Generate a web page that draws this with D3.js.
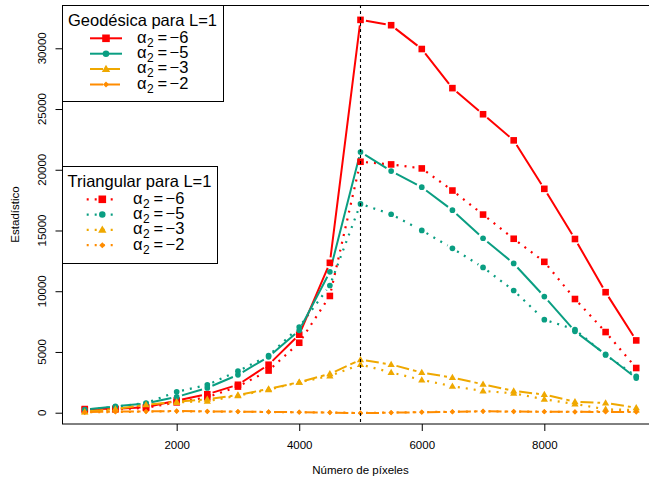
<!DOCTYPE html>
<html>
<head>
<meta charset="utf-8">
<script src="https://cdn.jsdelivr.net/npm/d3@7"></script>
<style>
  body { margin: 0; background: #fff; }
  svg { display: block; font-family: "Liberation Sans", Arial, Helvetica, sans-serif; }
</style>
</head>
<body>
<svg id="chart" width="649" height="482"></svg>
<script>
// Number of pixels (x) and statistic values for each alpha_2, two distances
const pixelCounts = [500, 1000, 1500, 2000, 2500, 3000, 3500, 4000, 4500, 5000,
                     5500, 6000, 6500, 7000, 7500, 8000, 8500, 9000, 9500];

// Geodesic distance, L = 1
const geoAlphaM6 = [300, 320, 450, 1000, 1520, 2300, 3950, 6420, 12340, 32340,
                    31900, 29940, 26720, 24570, 22420, 18430, 14300, 9920, 5950];
const geoAlphaM5 = [260, 520, 760, 1300, 2040, 3120, 4600, 6780, 11600, 21460,
                    19890, 18570, 16670, 14360, 12290, 9560, 6700, 4800, 2850];
const geoAlphaM3 = [80, 300, 660, 900, 1100, 1460, 1960, 2510, 3200, 4360,
                    3970, 3310, 2890, 2340, 1790, 1490, 910, 800, 410];
const geoAlphaM2 = [50, 90, 110, 140, 110, 90, 60, 40, 10, -40,
                    0, 40, 70, 120, 100, 80, 70, 60, 50];

// Triangular distance, L = 1
const triAlphaM6 = [240, 280, 400, 850, 1270, 2150, 3470, 5760, 9610, 20660,
                    20440, 20110, 18290, 16310, 14320, 12420, 9360, 6640, 3680];
const triAlphaM5 = [230, 480, 800, 1720, 2290, 3420, 4700, 7050, 10470, 17190,
                    16340, 15010, 13530, 11960, 10060, 7660, 6850, 4750, 3000];
const triAlphaM3 = [60, 250, 600, 850, 950, 1400, 1900, 2500, 3030, 3970,
                    3310, 2700, 2180, 1790, 1600, 1100, 720, 280, 220];
const triAlphaM2 = [30, 60, 90, 120, 100, 80, 60, 40, 20, -20,
                    10, 50, 80, 110, 90, 80, 60, 120, 100];

const alphaValues = ["6", "5", "3", "2"];
const xTicks = [2000, 4000, 6000, 8000];
const yTicks = [0, 5000, 10000, 15000, 20000, 25000, 30000];
const cutPixels = 5000;

const colors = ["#FF0000", "#0A9E82", "#EFA800", "#FF8C00"];
const shapes = ["square", "circle", "triangle", "diamond"];

const svg = d3.select("#chart");

const plotLeft = 62.7, plotRight = 658.3, plotTop = 5, plotBottom = 424;
const x = d3.scaleLinear().domain([140, 9860]).range([plotLeft, plotRight]);
const y = d3.scaleLinear().domain([-930, 33564]).range([plotBottom, plotTop]);

const geoSeries = [geoAlphaM6, geoAlphaM5, geoAlphaM3, geoAlphaM2];
const triSeries = [triAlphaM6, triAlphaM5, triAlphaM3, triAlphaM2];
const geoDash = [null, null, "13,4", "13,4"];

// marker path centred on (0,0)
function marker(shape, s) {
  if (shape === "square") {
    const h = s / 2;
    return `M${-h},${-h}H${h}V${h}H${-h}Z`;
  }
  if (shape === "circle") {
    const r = s * 0.43;
    return `M${r},0A${r},${r} 0 1 1 ${-r},0A${r},${r} 0 1 1 ${r},0Z`;
  }
  if (shape === "triangle") {
    const w = s * 0.55, ht = s * 0.95;
    return `M0,${-ht * 0.6}L${w},${ht * 0.4}L${-w},${ht * 0.4}Z`;
  }
  const d = s * 0.4;
  return `M0,${-d}L${d},0L0,${d}L${-d},0Z`;
}

// segments between consecutive points with a small gap at each point
function gappedPath(values, gap) {
  let p = "";
  for (let i = 0; i < values.length - 1; i++) {
    const x1 = x(pixelCounts[i]), y1 = y(values[i]);
    const x2 = x(pixelCounts[i + 1]), y2 = y(values[i + 1]);
    const len = Math.hypot(x2 - x1, y2 - y1);
    if (len <= 2 * gap) continue;
    const ux = (x2 - x1) / len, uy = (y2 - y1) / len;
    p += `M${x1 + ux * gap},${y1 + uy * gap}L${x2 - ux * gap},${y2 - uy * gap}`;
  }
  return p;
}

const plot = svg.append("g");

// triangular distance: dotted lines
triSeries.forEach((vals, k) => {
  plot.append("path")
    .attr("d", gappedPath(vals, 5.5))
    .attr("fill", "none")
    .attr("stroke", colors[k])
    .attr("stroke-width", 2.2)
    .attr("stroke-dasharray", "2,6");
});

// geodesic distance: solid / long-dashed lines
geoSeries.forEach((vals, k) => {
  plot.append("path")
    .attr("d", gappedPath(vals, 5.5))
    .attr("fill", "none")
    .attr("stroke", colors[k])
    .attr("stroke-width", 2)
    .attr("stroke-dasharray", geoDash[k]);
});

// markers
[triSeries, geoSeries].forEach(group => {
  group.forEach((vals, k) => {
    plot.append("g").selectAll("path")
      .data(vals)
      .join("path")
      .attr("transform", (d, i) => `translate(${x(pixelCounts[i])},${y(d)})`)
      .attr("d", marker(shapes[k], 6.6))
      .attr("fill", colors[k]);
  });
});

// vertical reference line
svg.append("line")
  .attr("x1", x(cutPixels)).attr("x2", x(cutPixels))
  .attr("y1", plotTop).attr("y2", plotBottom)
  .attr("stroke", "#000").attr("stroke-width", 1.1)
  .attr("stroke-dasharray", "3,3");

// plot box
svg.append("rect")
  .attr("x", 62.5).attr("y", 5.5)
  .attr("width", plotRight - 62.5).attr("height", 424 - 5.5)
  .attr("fill", "none").attr("stroke", "#000").attr("stroke-width", 1);

// x axis
const xAxis = d3.axisBottom(x).tickValues(xTicks).tickSize(7).tickPadding(10)
  .tickFormat(d3.format("d"));
const gx = svg.append("g").attr("transform", `translate(0,${plotBottom})`).call(xAxis);
gx.select(".domain").remove();
gx.selectAll("text").attr("font-size", 11.5).attr("font-family", null).attr("fill", "#000");
gx.selectAll("line").attr("stroke", "#000");

// y axis with labels parallel to the axis
const yAxis = d3.axisLeft(y).tickValues(yTicks).tickSize(7).tickFormat("");
const gy = svg.append("g").attr("transform", `translate(${62.5},0)`).call(yAxis);
gy.select(".domain").remove();
gy.selectAll("line").attr("stroke", "#000");
svg.append("g").selectAll("text")
  .data(yTicks)
  .join("text")
  .attr("x", 46).attr("y", d => y(d))
  .attr("transform", d => `rotate(-90,46,${y(d)})`)
  .attr("text-anchor", "middle")
  .attr("font-size", 11.5)
  .text(d3.format("d"));

// axis titles
svg.append("text")
  .attr("x", (plotLeft + plotRight) / 2).attr("y", 474)
  .attr("text-anchor", "middle").attr("font-size", 11.5)
  .text("Número de píxeles");
svg.append("text")
  .attr("x", 19).attr("y", (plotTop + plotBottom) / 2)
  .attr("transform", `rotate(-90,19,${(plotTop + plotBottom) / 2})`)
  .attr("text-anchor", "middle").attr("font-size", 11.5)
  .text("Estadístico");

// legends
function legend(cfg) {
  const g = svg.append("g");
  g.append("rect")
    .attr("x", cfg.x0).attr("y", cfg.y0)
    .attr("width", cfg.x1 - cfg.x0).attr("height", cfg.y1 - cfg.y0)
    .attr("fill", "#fff").attr("stroke", "#000").attr("stroke-width", 1);
  g.append("text")
    .attr("x", cfg.titleX).attr("y", cfg.titleY)
    .attr("text-anchor", "middle").attr("font-size", 16.5)
    .text(cfg.title);
  alphaValues.forEach((a, k) => {
    const ly = cfg.rowY + k * cfg.rowStep;
    g.append("line")
      .attr("x1", cfg.lineX0).attr("x2", cfg.lineX1)
      .attr("y1", ly).attr("y2", ly)
      .attr("stroke", colors[k])
      .attr("stroke-width", cfg.dotted ? 2.2 : 2)
      .attr("stroke-dasharray", cfg.dotted ? "2,6" : geoDash[k]);
    g.append("path")
      .attr("transform", `translate(${cfg.pointX},${ly})`)
      .attr("d", marker(shapes[k], 7.6))
      .attr("fill", colors[k]);
    const by = ly + 4.3;
    const tx = cfg.textX;
    // alpha with subscript 2, then "= −value"
    const t = g.append("text").attr("x", tx).attr("y", by).attr("font-size", 16.5);
    t.append("tspan").text("α");
    t.append("tspan").attr("x", tx + 10).attr("dy", 4).attr("font-size", 12).text("2");
    t.append("tspan").attr("x", tx + 20.5).attr("dy", -4).text("=");
    t.append("tspan").attr("x", tx + 32.5).text("−" + a);
  });
}

legend({
  x0: 62.5, y0: 5.5, x1: 223.5, y1: 101.5,
  title: "Geodésica para L=1", titleX: 142.5, titleY: 26,
  rowY: 38.3, rowStep: 15.4,
  lineX0: 90, lineX1: 122, pointX: 106, textX: 137, dotted: false
});
legend({
  x0: 62.5, y0: 166.5, x1: 217.5, y1: 263.5,
  title: "Triangular para L=1", titleX: 139.5, titleY: 187,
  rowY: 199.3, rowStep: 15.3,
  lineX0: 86.7, lineX1: 115, pointX: 102.3, textX: 133, dotted: true
});
</script>
</body>
</html>
